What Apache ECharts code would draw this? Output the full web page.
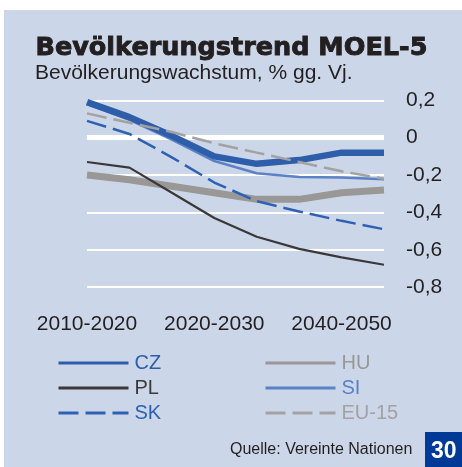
<!DOCTYPE html>
<html>
<head>
<meta charset="utf-8">
<script src="https://cdn.jsdelivr.net/npm/echarts@6/dist/echarts.min.js"></script>
<style>
html,body{margin:0;padding:0;background:#fff;}
#c{width:462px;height:467px;}
</style>
</head>
<body>
<div id="c"></div>
<script>
// ---- data ----
const tickLabels = ['2010-2020', '', '', '2020-2030', '', '', '2040-2050', ''];
const yTicks = [0.2, 0, -0.2, -0.4, -0.6, -0.8];
const CZ = [0.19, 0.11, 0.01, -0.10, -0.14, -0.12, -0.08, -0.08];
const SI = [0.18, 0.095, -0.01, -0.125, -0.19, -0.21, -0.213, -0.222];
const HU = [-0.20, -0.225, -0.26, -0.295, -0.33, -0.33, -0.295, -0.28];
const PL = [-0.13, -0.16, -0.295, -0.43, -0.53, -0.595, -0.64, -0.68];
const SK = [0.09, 0.02, -0.105, -0.24, -0.34, -0.395, -0.445, -0.49];
const EU15 = [0.13, 0.08, 0.03, -0.03, -0.08, -0.13, -0.18, -0.22];

const title = 'Bevölkerungstrend MOEL-5';
const subtitle = 'Bevölkerungswachstum, % gg. Vj.';
const source = 'Quelle: Vereinte Nationen';
const pageNo = '30';

const C = {
  CZ: '#2e5daa', SI: '#5a82c4', SK: '#2f61b3', PL: '#3a3838', HU: '#9a9896', EU: '#a3a1a1',
  bg: '#cbd7e9', text: '#231f20', page: '#003a96'
};
const FONT = '"Liberation Sans", Arial, sans-serif';

const chart = echarts.init(document.getElementById('c'), null, {renderer: 'canvas'});

function fmt(v) {
  const r = Math.round(v * 10) / 10;
  if (r === 0) return '0';
  return r.toFixed(1).replace('.', ',');
}

const legendCommon = {
  orient: 'vertical',
  top: 353,
  padding: 0,
  itemGap: 5,
  itemWidth: 70,
  itemHeight: 14,
  lineStyle: {width: 3},
  itemStyle: {opacity: 0},
  textStyle: {fontFamily: FONT, fontSize: 20, lineHeight: 20, padding: [0, 0, 0, 1]},
  selectedMode: false
};

chart.setOption({
  backgroundColor: '#ffffff',
  animation: false,
  graphic: [
    {type: 'rect', left: 4, top: 10, shape: {width: 458, height: 457}, style: {fill: C.bg}, z: -10},
    {type: 'rect', left: 425, top: 432, shape: {width: 37, height: 35}, style: {fill: C.page}, z: 10},
    {type: 'text', left: 431, top: 440, z: 11,
     style: {text: pageNo, fill: '#fff', font: 'bold 23px ' + FONT}}
  ],
  title: [
    {text: title, left: 35.5, top: 35, padding: 0,
     textStyle: {fontFamily: '"DejaVu Sans", sans-serif', fontWeight: 'bold', fontSize: 25.5, color: C.text,
       textBorderColor: C.text, textBorderWidth: 0.9}},
    {text: subtitle, left: 35, top: 63, padding: 0,
     textStyle: {fontFamily: FONT, fontWeight: 'normal', fontSize: 21, color: C.text}},
    {text: source, left: 230, top: 442, padding: 0,
     textStyle: {fontFamily: FONT, fontWeight: 'normal', fontSize: 16, color: C.text}}
  ],
  legend: [
    Object.assign({}, legendCommon, {
      left: 57,
      data: [
        {name: 'CZ', textStyle: {color: C.CZ}},
        {name: 'PL', textStyle: {color: C.PL}},
        {name: 'SK', textStyle: {color: C.SK}}
      ]
    }),
    Object.assign({}, legendCommon, {
      left: 264,
      data: [
        {name: 'HU', textStyle: {color: C.HU}},
        {name: 'SI', textStyle: {color: C.SI}},
        {name: 'EU-15', textStyle: {color: C.EU}}
      ]
    })
  ],
  grid: {left: 87, right: 78, top: 100.3, bottom: 467 - 287.2, containLabel: false},
  xAxis: {
    type: 'category',
    boundaryGap: false,
    data: tickLabels.map((t, i) => String(i)),
    axisLine: {show: false},
    axisTick: {show: false},
    splitLine: {show: false},
    axisLabel: {
      interval: 0, margin: 27,
      formatter: (v, i) => tickLabels[i],
      fontFamily: FONT, fontSize: 21, color: C.text
    }
  },
  yAxis: {
    type: 'value',
    position: 'right',
    min: yTicks[yTicks.length - 1],
    max: yTicks[0],
    interval: 0.2,
    axisLine: {show: false},
    axisTick: {show: false},
    axisLabel: {margin: 22, align: 'left', formatter: fmt, fontFamily: FONT, fontSize: 21, color: C.text,
      padding: [3, 0, 0, 0]},
    splitLine: {show: true, lineStyle: {color: '#ffffff', width: 2}}
  },
  series: [
    {name: 'HU', type: 'line', data: HU, symbol: 'none', z: 2,
     lineStyle: {color: C.HU, width: 7}, itemStyle: {color: C.HU},
     markLine: {silent: true, symbol: 'none', z: 1, label: {show: false},
       lineStyle: {color: '#ffffff', width: 5, type: 'solid'}, data: [{yAxis: 0}]}},
    {name: 'SI', type: 'line', data: SI, symbol: 'none', z: 3,
     lineStyle: {color: C.SI, width: 2.5}, itemStyle: {color: C.SI}},
    {name: 'CZ', type: 'line', data: CZ, symbol: 'none', z: 4,
     lineStyle: {color: C.CZ, width: 6.5}, itemStyle: {color: C.CZ}},
    {name: 'PL', type: 'line', data: PL, symbol: 'none', z: 5,
     lineStyle: {color: C.PL, width: 2.2}, itemStyle: {color: C.PL}},
    {name: 'SK', type: 'line', data: SK, symbol: 'none', z: 6,
     lineStyle: {color: C.SK, width: 2.5, type: [20, 7]}, itemStyle: {color: C.SK}},
    {name: 'EU-15', type: 'line', data: EU15, symbol: 'none', z: 7,
     lineStyle: {color: C.EU, width: 2.5, type: [20, 7]}, itemStyle: {color: C.EU}}
  ]
});
</script>
</body>
</html>
